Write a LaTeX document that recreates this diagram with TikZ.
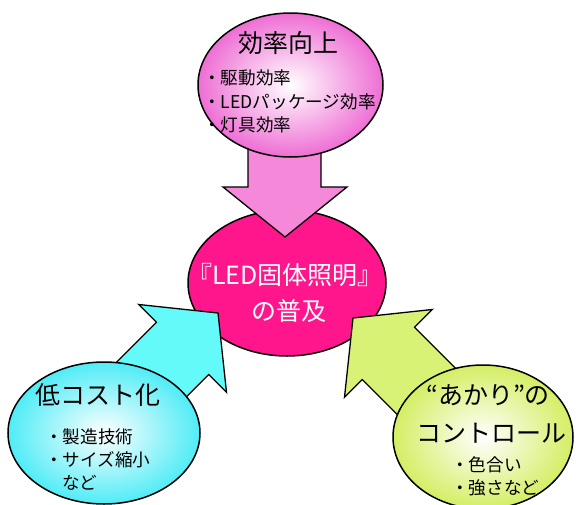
\documentclass[tikz,border=0pt]{standalone}
\usepackage{fontspec}
\setmainfont{Noto Sans CJK JP}
\usetikzlibrary{shapes.geometric}
\definecolor{cmag}{RGB}{255,22,140}
\definecolor{ptop}{RGB}{246,136,218}
\definecolor{ptopE}{RGB}{238,110,212}
\definecolor{ccy}{RGB}{100,250,250}
\definecolor{ccyE}{RGB}{80,236,246}
\definecolor{cyg}{RGB}{216,242,118}
\definecolor{cygE}{RGB}{212,238,100}
\begin{document}
\begin{tikzpicture}[x=1pt,y=-1pt,
  ell/.style={ellipse, draw=black, line width=1.5pt, inner sep=0pt},
  blockarrow/.style={draw=black, line width=1.3pt, line join=miter},
  title/.style={font=\fontsize{25}{28}\selectfont, inner sep=0pt},
  item/.style={font=\fontsize{17.6}{20}\selectfont, inner sep=0pt, anchor=west}]
\useasboundingbox (0,0) rectangle (576,504);
\clip (0,0) rectangle (576,504);
\fill[white] (0,0) rectangle (576,504);

% centre ellipse
\node[ell, fill=cmag, minimum width=198pt, minimum height=146pt] (centre) at (287,283) {};

% block arrows
\filldraw[blockarrow, fill=ptop] (248,140) -- (248,187) -- (223,187) -- (285,237) -- (347,187) -- (321,187) -- (321,140) -- cycle;
\filldraw[blockarrow, fill=ccy] (218,313) -- (138.8,304.5) -- (156.5,322.2) -- (85.8,392.9) -- (138.1,445.2) -- (208.8,374.5) -- (226.5,392.2) -- cycle;
\filldraw[blockarrow, fill=cyg] (353,318) -- (432.2,309.5) -- (414.5,327.2) -- (485.2,397.9) -- (432.9,450.2) -- (362.2,379.5) -- (344.5,397.2) -- cycle;

% outer ellipses
\node[ell, shading=radial, inner color=white, outer color=ptopE, minimum width=185pt, minimum height=144pt] (top) at (290.5,85) {};
\node[ell, shading=radial, inner color=white, outer color=ccyE, minimum width=192pt, minimum height=142pt] (left) at (104,433) {};
\node[ell, shading=radial, inner color=white, outer color=cygE, minimum width=180pt, minimum height=144pt] (right) at (483,437) {};

% texts: top
\node[title] (t1) at (288,43) {効率向上};
\node[item] (t2) at (203,78) {・駆動効率};
\node[item] (t3) at (203,101.5) {・LEDパッケージ効率};
\node[item] (t4) at (203,125) {・灯具効率};

% centre
\node[title, text=white] (c1) at (285,275) {『LED固体照明』};
\node[title, text=white] (c2) at (289,311) {の普及};

% left
\node[title] (l1) at (98,395) {低コスト化};
\node[item] (l2) at (45,437) {・製造技術};
\node[item] (l3) at (45,460) {・サイズ縮小};
\node[item] (l4) at (62,483) {など};

% right
\node[title] (r1) at (488,395) {“あかり”の};
\node[title] (r2) at (491,433) {コントロール};
\node[item] (r3) at (451,465) {・色合い};
\node[item] (r4) at (451,487.5) {・強さなど};
\end{tikzpicture}
\end{document}
